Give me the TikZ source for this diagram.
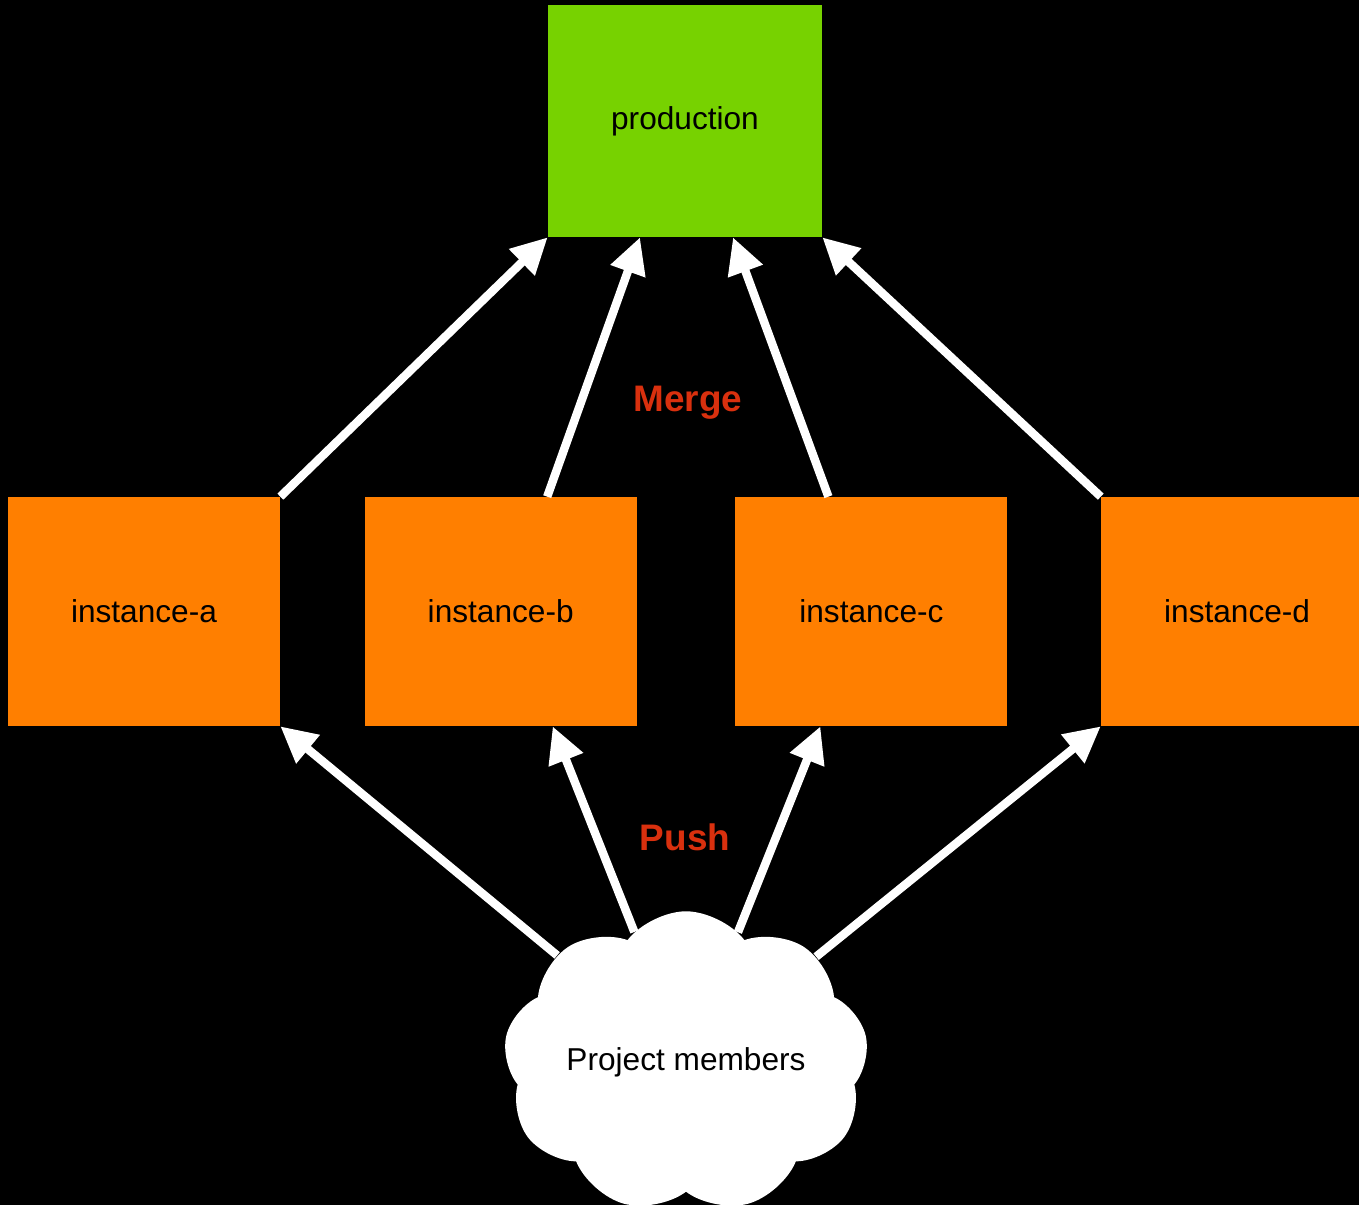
\documentclass[tikz,border=0pt]{standalone}
\usepackage{fontspec}
\setmainfont{Liberation Sans}
\usetikzlibrary{arrows.meta,positioning,shapes.symbols}
\definecolor{Leaf}{HTML}{77D200}
\definecolor{Tangerine}{HTML}{FF7F00}
\definecolor{Signal}{HTML}{D9300E}
\tikzset{
  stage/.style={
    draw=none, fill=Tangerine, inner sep=0pt,
    minimum width=5.44cm, minimum height=4.58cm, align=center,
    font=\fontsize{18}{22}\selectfont
  },
  release/.style={stage, fill=Leaf, minimum width=5.48cm, minimum height=4.64cm},
  crowd/.style={
    cloud, cloud puffs=9, cloud puff arc=105, aspect=1.3, fill=white,
    minimum width=7.3cm, minimum height=5.5cm, inner sep=0pt,
    font=\fontsize{18}{22}\selectfont
  },
  flow/.style={-{Triangle[length=0.72cm,width=0.7cm]}, line width=4.8pt, draw=white},
  action/.style={text=Signal, font=\fontsize{21}{25}\selectfont\bfseries}
}

\begin{document}
\begin{tikzpicture}[node distance=1.8cm]
    \useasboundingbox (0,0) rectangle (27.18,-24.1);
    \fill[black] (0,0) rectangle (27.18,-24.1);
    \node[release] (production) at (13.7,-2.42) {production};
    \node[stage] (insta) at (2.88,-12.23) {instance-a};
    \node[stage,right=1.68cm of insta] (instb) {instance-b};
    \node[stage,right=1.96cm of instb] (instc) {instance-c};
    \node[stage,right=1.86cm of instc] (instd) {instance-d};
    \node[crowd] (members) at (13.72,-21.24) {Project members};
    \node[action] (merge) at (13.76,-8.06) {Merge};
    \node[action] (push) at (13.7,-16.74) {Push};
    % merge into production
    \draw[flow] (insta.north east)--(production.south west);
    \draw[flow] ([xshift=0.93cm]instb.north)--([xshift=-0.9cm]production.south);
    \draw[flow] ([xshift=-0.86cm]instc.north)--([xshift=0.96cm]production.south);
    \draw[flow] (instd.north west)--(production.south east);
    % push from the members
    \draw[flow] (members)--(insta.south east);
    \draw[flow] (members)--([xshift=1.04cm]instb.south);
    \draw[flow] (members)--([xshift=-1.02cm]instc.south);
    \draw[flow] (members)--(instd.south west);
  \end{tikzpicture}
\end{document}
